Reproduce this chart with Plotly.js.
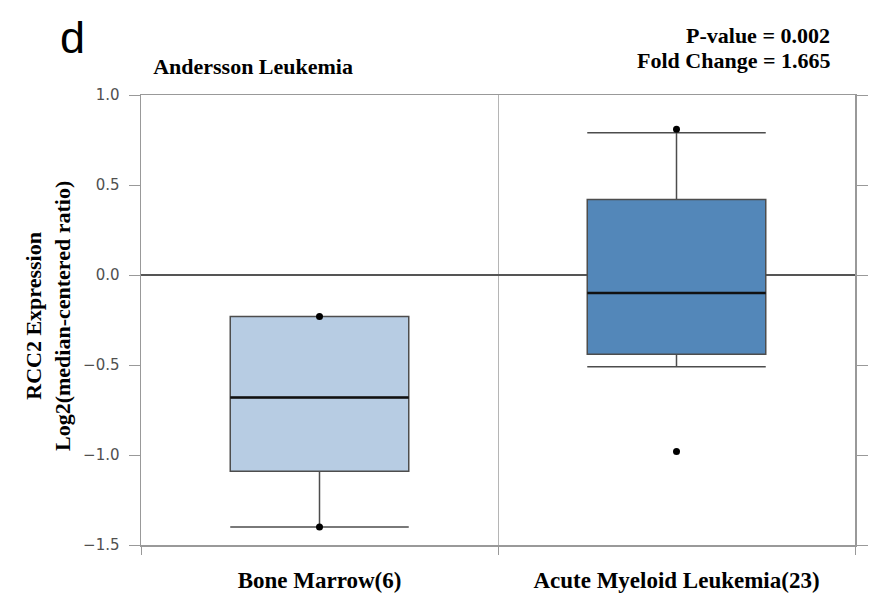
<!DOCTYPE html>
<html>
<head>
<meta charset="utf-8">
<script src="https://cdn.plot.ly/plotly-3.0.1.min.js"></script>
<style>html,body{margin:0;padding:0;background:#fff;}#chart{width:871px;height:606px;}</style>
</head>
<body>
<div id="chart"></div>
<script>
// ---- data ----
var categories = ["Bone Marrow(6)", "Acute Myeloid Leukemia(23)"];
var q1Values = [-1.09, -0.44];
var medianValues = [-0.68, -0.10];
var q3Values = [-0.23, 0.42];
var lowerFenceValues = [-1.40, -0.51];
var upperFenceValues = [-0.23, 0.79];
var pointCategories = ["Bone Marrow(6)", "Bone Marrow(6)", "Acute Myeloid Leukemia(23)", "Acute Myeloid Leukemia(23)"];
var pointValues = [-0.23, -1.40, 0.81, -0.98];
var yTickValues = [-1.5, -1.0, -0.5, 0.0, 0.5, 1.0];
var fillColors = ["#b7cce3", "#5387b9"];

var serif = "Liberation Serif, Times New Roman, serif";
var traces = [];
for (var i = 0; i < categories.length; i++) {
  traces.push({
    type: "box",
    x: [categories[i]],
    q1: [q1Values[i]],
    median: [medianValues[i]],
    q3: [q3Values[i]],
    lowerfence: [lowerFenceValues[i]],
    upperfence: [upperFenceValues[i]],
    width: 0.5,
    whiskerwidth: 1,
    fillcolor: fillColors[i],
    line: {color: "#4d4d4d", width: 1.5},
    boxpoints: false,
    hoverinfo: "skip",
    showlegend: false
  });
}
// thicker median lines
for (var j = 0; j < categories.length; j++) {
  traces.push({
    type: "box",
    x: [categories[j]],
    q1: [medianValues[j]],
    median: [medianValues[j]],
    q3: [medianValues[j]],
    lowerfence: [medianValues[j]],
    upperfence: [medianValues[j]],
    width: 0.5,
    whiskerwidth: 0,
    fillcolor: "rgba(0,0,0,0)",
    line: {color: "#111111", width: 2.5},
    boxpoints: false,
    hoverinfo: "skip",
    showlegend: false
  });
}
traces.push({
  type: "scatter",
  mode: "markers",
  x: pointCategories,
  y: pointValues,
  marker: {color: "#000000", size: 7},
  hoverinfo: "skip",
  showlegend: false
});

var layout = {
  width: 871,
  height: 606,
  margin: {l: 141, r: 16, t: 95, b: 61},
  paper_bgcolor: "#ffffff",
  plot_bgcolor: "#ffffff",
  boxmode: "overlay",
  title: {
    text: "<b>Andersson Leukemia</b>",
    font: {family: serif, size: 22, color: "#000"},
    xref: "paper", x: 0.017, xanchor: "left",
    yref: "container", y: 1 - 66 / 606, yanchor: "middle"
  },
  xaxis: {
    type: "category",
    categoryorder: "array",
    categoryarray: categories,
    range: [-0.5, 1.5],
    tickson: "boundaries",
    ticks: "outside",
    ticklen: 8,
    tickcolor: "#999",
    showgrid: true,
    gridcolor: "#b5b5b5",
    gridwidth: 1,
    showline: true,
    linecolor: "#999999",
    linewidth: 1.5,
    mirror: true,
    zeroline: false,
    tickfont: {family: serif, size: 23, color: "#000", weight: "bold"},
    ticklabelstandoff: 14,
    fixedrange: true
  },
  yaxis: {
    range: [-1.5, 1.0],
    tickvals: yTickValues,
    tickformat: ".1f",
    ticks: "outside",
    ticklen: 11,
    tickcolor: "#999",
    showline: true,
    linecolor: "#999999",
    linewidth: 1.5,
    mirror: "ticks",
    showgrid: false,
    zeroline: true,
    zerolinecolor: "#555555",
    zerolinewidth: 1.2,
    ticklabelstandoff: 6,
    tickfont: {family: "DejaVu Sans, sans-serif", size: 15, color: "#505050"},
    fixedrange: true
  },
  annotations: [
    {
      text: "<b>RCC2 Expression<br>Log2(median-centered ratio)</b>",
      xref: "paper", yref: "paper",
      x: (48 - 141) / 714, y: (545 - 316) / 450,
      xanchor: "center", yanchor: "middle",
      textangle: -90, showarrow: false,
      font: {family: serif, size: 22, color: "#000"}
    },
    {
      text: "<b>P-value = 0.002</b>",
      xref: "paper", yref: "paper",
      x: (832 - 141) / 714, y: (545 - 36) / 450,
      xanchor: "right", yanchor: "middle", showarrow: false,
      font: {family: serif, size: 22, color: "#000"}
    },
    {
      text: "<b>Fold Change = 1.665</b>",
      xref: "paper", yref: "paper",
      x: (832 - 141) / 714, y: (545 - 61) / 450,
      xanchor: "right", yanchor: "middle", showarrow: false,
      font: {family: serif, size: 22, color: "#000"}
    },
    {
      text: "d",
      xref: "paper", yref: "paper",
      x: (72 - 141) / 714, y: (545 - 38) / 450,
      xanchor: "center", yanchor: "middle", showarrow: false,
      font: {family: "Liberation Sans, Arial, sans-serif", size: 45, color: "#000"}
    }
  ]
};

Plotly.newPlot("chart", traces, layout, {displayModeBar: false, staticPlot: true});
</script>
</body>
</html>
